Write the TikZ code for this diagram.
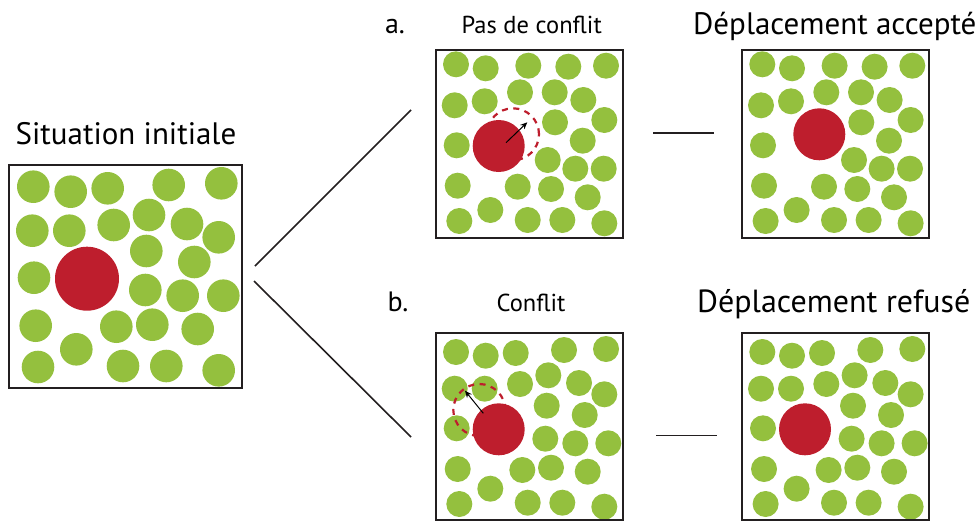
\documentclass[tikz,border=0pt]{standalone}
\usepackage{fontspec}
\setmainfont{PT Sans}
\usetikzlibrary{arrows.meta}
\definecolor{vert}{RGB}{148,192,62}
\definecolor{rouge}{RGB}{190,30,45}
\definecolor{cadre}{RGB}{35,31,32}

% positions des billes vertes (origine : coin haut gauche de la boite)
\def\billesInit{24.3/21.7,61.7/26.7,98.7/23.3,159.7/20,212.3/18.3,
  23.3/65.7,60.3/65.7,104.7/60,140/50,178/59,209.7/72.3,
  137.3/86,185.3/97,25/112.7,136.3/125,173.7/130.7,214.3/130.7,
  26.7/160.7,107.3/161.7,143.3/159.7,188.7/164,67.3/184.3,
  29/202,114/201,157.3/201,209.7/205.3}
\def\billesA{20/14.3,49.7/18.3,92.3/15.7,132.3/16.7,170/15.7,
  18.7/55.3,48.7/51.3,84/42.3,118.7/42.3,147.3/50,168.3/70,
  119/72.3,146.7/90.7,20.7/95.3,111.7/110,139.3/118.7,167.7/118.7,
  21.7/135.7,81.7/136.7,115/139,151.7/147.3,54.3/160,
  23.3/171,91.7/170,126.3/170,168.3/173.3}
\def\billesB{20/18.7,49.7/22.4,79.7/19.7,128/16.7,170/15.7,
  18.7/55.4,48.7/55.4,84/50.7,112.3/42,143/49.7,168.3/61,
  110.7/72.4,148.7/81.7,20.7/95,109.3/105.4,139.3/110,172.3/110,
  21.7/135.7,86.3/136.7,115/134.4,151.7/138.4,54.3/155.4,
  23.3/170.7,91.7/169.4,126.3/169.4,168.3/173.4}

\begin{document}
\begin{tikzpicture}[x=1pt,y=-1pt,
    bille/.style={fill=vert},
    intrus/.style={fill=rouge},
    essai/.style={draw=rouge,line width=2.2pt,dash pattern=on 6pt off 5.5pt},
    boite/.style={draw=cadre,line width=2pt},
    lien/.style={draw=cadre,line width=1.6pt},
    saut/.style={-{Stealth[length=7pt,width=6pt]},line width=1pt},
    grand/.style={anchor=base,inner sep=0pt,font=\fontsize{31}{31}\selectfont},
    moyen/.style={anchor=base,inner sep=0pt,font=\fontsize{24.5}{24.5}\selectfont}]
  \useasboundingbox (0,0) rectangle (979,522);

  % situation initiale
  \begin{scope}[shift={(9,165)}]
    \foreach \x/\y in \billesInit {\fill[bille] (\x,\y) circle[radius=16.3pt];}
    \fill[intrus] (78,113.7) circle[radius=32pt];
    \draw[boite] (0,0) rectangle (232.7,222.7);
  \end{scope}
  \node[grand] (init) at (126,144.3) {Situation initiale};

  % a. pas de conflit
  \begin{scope}[shift={(436,50)}]
    \foreach \x/\y in \billesA {\fill[bille] (\x,\y) circle[radius=13pt];}
    \draw[essai] (77,84.3) circle[radius=26pt];
    \fill[intrus] (62.7,96) circle[radius=26pt];
    \coordinate (a0) at (70,92.7);
    \coordinate (a1) at (91.3,72.3);
    \draw[saut] (a0) -- (a1);
    \draw[boite] (0,0) rectangle (186.7,187.7);
  \end{scope}
  \begin{scope}[shift={(742.3,50)}]
    \foreach \x/\y in \billesA {\fill[bille] (\x,\y) circle[radius=13pt];}
    \fill[intrus] (77,84.3) circle[radius=26pt];
    \draw[boite] (0,0) rectangle (186.7,187.7);
  \end{scope}

  % b. conflit
  \begin{scope}[shift={(436,333.3)}]
    \foreach \x/\y in \billesB {\fill[bille] (\x,\y) circle[radius=13pt];}
    \draw[essai] (43.3,76.7) circle[radius=26pt];
    \fill[intrus] (62.7,96) circle[radius=26pt];
    \coordinate (b0) at (47.3,80);
    \coordinate (b1) at (29,57.4);
    \draw[saut] (b0) -- (b1);
    \draw[boite] (0,0) rectangle (186.7,186.2);
  \end{scope}
  \begin{scope}[shift={(742.3,333.3)}]
    \foreach \x/\y in \billesB {\fill[bille] (\x,\y) circle[radius=13pt];}
    \fill[intrus] (62.7,96) circle[radius=26pt];
    \draw[boite] (0,0) rectangle (186.7,186.2);
  \end{scope}

  % textes
  \node[moyen,font=\fontsize{28}{28}\selectfont] (la) at (395,33.3) {a.};
  \node[moyen] (pas) at (531.7,33.3) {Pas de conflit};
  \node[grand,anchor=base west] (acc) at (693,34) {Déplacement accepté};
  \node[moyen,font=\fontsize{28}{28}\selectfont] (lb) at (398,311) {b.};
  \node[moyen] (conf) at (531,311) {Conflit};
  \node[grand,anchor=base west,font=\fontsize{32}{32}\selectfont] (ref) at (697,312) {Déplacement refusé};

  % liaisons
  \coordinate (o1) at (255,266);
  \coordinate (e1) at (411,110);
  \coordinate (o2) at (254,281);
  \coordinate (e2) at (411,437);
  \coordinate (h1) at (653,133);
  \coordinate (h2) at (714,133);
  \coordinate (k1) at (656,435.5);
  \coordinate (k2) at (717,435.5);
  \draw[lien] (o1) -- (e1);
  \draw[lien] (o2) -- (e2);
  \draw[lien] (h1) -- (h2);
  \draw[lien] (k1) -- (k2);
\end{tikzpicture}
\end{document}
